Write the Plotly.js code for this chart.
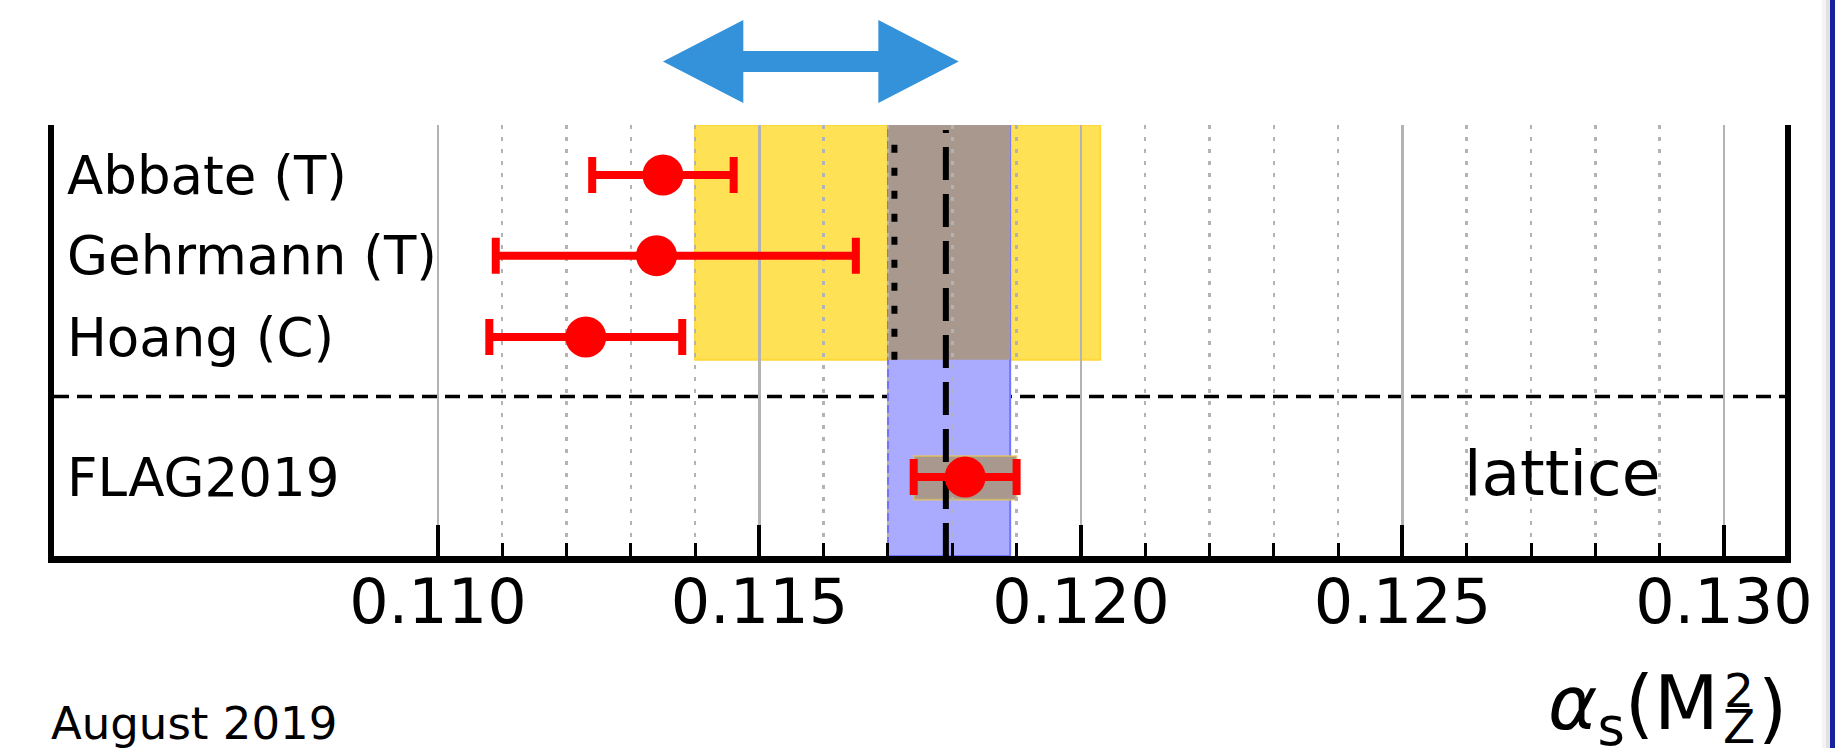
<!DOCTYPE html>
<html>
<head>
<meta charset="utf-8">
<script src="https://cdn.plot.ly/plotly-3.0.1.min.js"></script>
<style>
  html, body { margin: 0; padding: 0; background: #ffffff; }
  #chart { width: 1835px; height: 748px; }
</style>
</head>
<body>
<div id="chart"></div>
<script>
// ---- data ----
const eeLabels   = ['Abbate (T)', 'Gehrmann (T)', 'Hoang (C)'];
const eeRowY     = [4.68, 3.69, 2.69];
const eeValues   = [0.1135, 0.1134, 0.1123];
const eeErrPlus  = [0.0011, 0.0031, 0.0015];
const eeErrMinus = [0.0011, 0.0025, 0.0015];

const latLabels  = ['FLAG2019'];
const latRowY    = [0.97];
const latValues  = [0.1182];
const latErr     = [0.0008];

const eeAverage  = 0.1171;   // dotted line
const eeBandLow  = 0.1140;   // yellow band
const eeBandHigh = 0.1203;
const worldAvg   = 0.1179;   // dashed line
const worldLow   = 0.1170;   // blue band
const worldHigh  = 0.1189;
const arrowFrom  = 0.1135;
const arrowTo    = 0.1181;
const arrowHead  = 0.00125;

const majorTicks = [0.110, 0.115, 0.120, 0.125, 0.130];
const majorTickText = ['0.110', '0.115', '0.120', '0.125', '0.130'];
const minorTicks = [0.111, 0.112, 0.113, 0.114, 0.116, 0.117, 0.118, 0.119,
                    0.121, 0.122, 0.123, 0.124, 0.126, 0.127, 0.128, 0.129];

const sectionSep = 1.96;
const eeBandBottom = 2.41;
const latBoxLow = 0.69, latBoxHigh = 1.23;
const dottedTop = 5.135, dashedTop = 5.235;
const yMax = 5.295;
const xRange = [0.10403, 0.13095];

// ---- layout geometry ----
const W = 1835, H = 748;
const M = {l: 54, r: 50, t: 125, b: 192};
const PW = W - M.l - M.r, PH = H - M.t - M.b;
const px = X => (X - M.l) / PW;            // page pixel -> paper x
const py = Y => (H - M.b - Y) / PH;        // page pixel -> paper y

const FONT = 'DejaVu Sans, Liberation Sans, sans-serif';
const RED = '#ff0000';

const traces = [
  {
    type: 'scatter', mode: 'markers',
    x: eeValues, y: eeRowY,
    marker: {color: RED, size: 41},
    error_x: {type: 'data', symmetric: false, array: eeErrPlus, arrayminus: eeErrMinus,
              color: RED, thickness: 8, width: 18},
    hoverinfo: 'skip', showlegend: false
  },
  {
    type: 'scatter', mode: 'markers',
    x: latValues, y: latRowY,
    marker: {color: RED, size: 41},
    error_x: {type: 'data', array: latErr, color: RED, thickness: 8, width: 18},
    hoverinfo: 'skip', showlegend: false
  }
];

// arrow path (x in data units, y in paper)
const yMid = py(61.5), yHT = py(20), yHB = py(103), ySH = py(51), ySL = py(72);
const arrowPath =
  `M ${arrowFrom} ${yMid} L ${arrowFrom + arrowHead} ${yHT} L ${arrowFrom + arrowHead} ${ySH} ` +
  `L ${arrowTo - arrowHead} ${ySH} L ${arrowTo - arrowHead} ${yHT} L ${arrowTo} ${yMid} ` +
  `L ${arrowTo - arrowHead} ${yHB} L ${arrowTo - arrowHead} ${ySL} L ${arrowFrom + arrowHead} ${ySL} ` +
  `L ${arrowFrom + arrowHead} ${yHB} Z`;

const shapes = [
  // yellow e+e- band
  {type: 'rect', layer: 'below', xref: 'x', yref: 'y', x0: eeBandLow, x1: eeBandHigh,
   y0: eeBandBottom, y1: yMax, fillcolor: '#ffe155', line: {color: '#ffd83a', width: 2}},
  // blue world-average band
  {type: 'rect', layer: 'below', xref: 'x', yref: 'y', x0: worldLow, x1: worldHigh,
   y0: 0, y1: yMax, fillcolor: '#aaaaff', line: {color: '#7474ff', width: 2}},
  // overlap region
  {type: 'rect', layer: 'below', xref: 'x', yref: 'y', x0: worldLow, x1: worldHigh,
   y0: eeBandBottom, y1: yMax, fillcolor: '#a9988d', line: {width: 0}},
  // lattice box
  {type: 'rect', layer: 'below', xref: 'x', yref: 'y',
   x0: latValues[0] - latErr[0], x1: latValues[0] + latErr[0],
   y0: latBoxLow, y1: latBoxHigh, fillcolor: '#a9988d',
   line: {color: 'rgba(235,200,80,0.6)', width: 2}},
  // section separator
  {type: 'line', layer: 'between', xref: 'paper', yref: 'y', x0: 0, x1: 1,
   y0: sectionSep, y1: sectionSep, line: {color: '#000', width: 3.5, dash: '15px,8px'}},
  // e+e- average dotted
  {type: 'line', layer: 'between', xref: 'x', yref: 'y', x0: eeAverage, x1: eeAverage,
   y0: eeBandBottom, y1: dottedTop, line: {color: '#000', width: 6, dash: '8px,15px'}},
  // world average dashed
  {type: 'line', layer: 'between', xref: 'x', yref: 'y', x0: worldAvg, x1: worldAvg,
   y0: 0, y1: dashedTop, line: {color: '#000', width: 6, dash: '33px,14px'}},
  // blue double arrow
  {type: 'path', layer: 'above', xref: 'x', yref: 'paper', path: arrowPath,
   fillcolor: '#3492db', line: {width: 0}},
  // right page border stripe
  {type: 'rect', layer: 'above', xref: 'paper', yref: 'paper', x0: px(1822), x1: px(1826),
   y0: py(H), y1: py(0), fillcolor: '#f4f4f4', line: {width: 0}},
  {type: 'rect', layer: 'above', xref: 'paper', yref: 'paper', x0: px(1826), x1: px(1830),
   y0: py(H), y1: py(0), fillcolor: '#e2e2e2', line: {width: 0}},
  {type: 'rect', layer: 'above', xref: 'paper', yref: 'paper', x0: px(1830), x1: px(1836),
   y0: py(H), y1: py(0), fillcolor: '#15239c', line: {width: 0}}
];

const annotations = [];
eeLabels.forEach((t, i) => annotations.push({
  text: t, xref: 'paper', yref: 'y', x: px(65), y: eeRowY[i], xanchor: 'left', yanchor: 'middle',
  showarrow: false, font: {family: FONT, size: 53, color: '#000'}
}));
latLabels.forEach((t, i) => annotations.push({
  text: t, xref: 'paper', yref: 'y', x: px(65), y: latRowY[i], xanchor: 'left', yanchor: 'middle',
  showarrow: false, font: {family: FONT, size: 53, color: '#000'}
}));
annotations.push({
  text: 'lattice', xref: 'paper', yref: 'paper', x: px(1562), y: py(473),
  xanchor: 'center', yanchor: 'middle', showarrow: false,
  font: {family: FONT, size: 63, color: '#000'}
});
annotations.push({
  text: 'August 2019', xref: 'paper', yref: 'paper', x: px(49), y: py(723),
  xanchor: 'left', yanchor: 'middle', showarrow: false,
  font: {family: FONT, size: 45, color: '#000'}
});
// axis title alpha_s(M_Z^2) built from pieces
annotations.push({
  text: '<i>α</i><sub>s</sub>(M', xref: 'paper', yref: 'paper', x: px(1721), y: py(708),
  xanchor: 'right', yanchor: 'middle', showarrow: false,
  font: {family: FONT, size: 75, color: '#000'}
});
annotations.push({
  text: '2', xref: 'paper', yref: 'paper', x: px(1739), y: py(690),
  xanchor: 'center', yanchor: 'middle', showarrow: false,
  font: {family: FONT, size: 47, color: '#000'}
});
annotations.push({
  text: 'Z', xref: 'paper', yref: 'paper', x: px(1739), y: py(726),
  xanchor: 'center', yanchor: 'middle', showarrow: false,
  font: {family: FONT, size: 47, color: '#000'}
});
annotations.push({
  text: ')', xref: 'paper', yref: 'paper', x: px(1756), y: py(708),
  xanchor: 'left', yanchor: 'middle', showarrow: false,
  font: {family: FONT, size: 75, color: '#000'}
});

const layout = {
  width: W, height: H,
  margin: M,
  paper_bgcolor: '#ffffff', plot_bgcolor: 'rgba(0,0,0,0)',
  font: {family: FONT, color: '#000'},
  xaxis: {
    range: xRange, fixedrange: true,
    tickmode: 'array', tickvals: majorTicks, ticktext: majorTickText,
    tickfont: {family: FONT, size: 62, color: '#000'},
    ticks: 'inside', ticklen: 31, tickwidth: 4, tickcolor: '#000',
    ticklabelstandoff: -14,
    showgrid: true, gridcolor: '#b3b3b3', gridwidth: 2.5,
    minor: {tickmode: 'array', tickvals: minorTicks, ticks: 'inside', ticklen: 13,
            tickwidth: 3, tickcolor: '#000', showgrid: true, gridcolor: '#b3b3b3',
            gridwidth: 2.5, griddash: '4px,8px'},
    showline: true, linecolor: '#000', linewidth: 7,
    zeroline: false
  },
  yaxis: {
    range: [0, yMax], fixedrange: true,
    showticklabels: false, ticks: '', showgrid: false, zeroline: false,
    showline: true, mirror: true, linecolor: '#000', linewidth: 6
  },
  shapes: shapes,
  annotations: annotations
};

Plotly.newPlot('chart', traces, layout, {staticPlot: true, displayModeBar: false});
</script>
</body>
</html>
